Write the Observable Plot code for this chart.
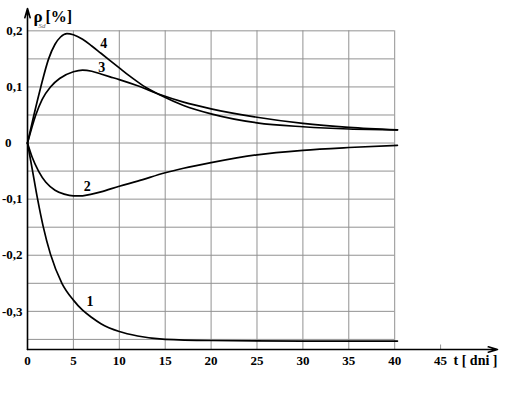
<!DOCTYPE html>
<html>
<head>
<meta charset="utf-8">
<script src="https://cdn.jsdelivr.net/npm/d3@7"></script>
<script src="https://cdn.jsdelivr.net/npm/@observablehq/plot@0.6"></script>
<style>
  html, body { margin: 0; padding: 0; background: #fff; }
  #chart svg, #chart svg text { font-family: "Liberation Serif", "Times New Roman", "DejaVu Serif", serif !important; }
</style>
</head>
<body>
<div id="chart"></div>
<script>
// ---- data ----
const t1 = [0, 0.5, 1.1, 1.7, 2.5, 3.75, 5, 6, 7, 8, 10, 12, 15, 20, 30, 40.3];
const v1 = [0, -0.045, -0.1, -0.148, -0.198, -0.25, -0.28, -0.298, -0.311, -0.322, -0.336, -0.344, -0.35, -0.352, -0.353, -0.353];

const t2 = [0, 0.5, 1.2, 2, 3, 4, 5, 6, 7, 8, 10, 12, 15, 17, 20, 25, 30, 35, 40.3];
const v2 = [0, -0.025, -0.05, -0.07, -0.084, -0.091, -0.094, -0.094, -0.091, -0.087, -0.077, -0.068, -0.053, -0.045, -0.035, -0.021, -0.013, -0.008, -0.004];

const t3 = [0, 0.9, 1.6, 2.5, 3.5, 5, 6, 7, 8, 9, 10, 12, 14.5, 17, 20, 25, 30, 35, 40.3];
const v3 = [0, 0.05, 0.078, 0.1, 0.115, 0.127, 0.13, 0.128, 0.123, 0.118, 0.113, 0.102, 0.086, 0.073, 0.061, 0.046, 0.035, 0.028, 0.0235];

const t4 = [0, 0.7, 1.45, 2.3, 3, 3.6, 4.3, 5, 6, 7, 8, 9, 10, 11, 12, 13, 14.5, 17, 20, 25, 30, 35, 40.3];
const v4 = [0, 0.05, 0.1, 0.15, 0.176, 0.189, 0.195, 0.193, 0.185, 0.173, 0.16, 0.147, 0.134, 0.121, 0.109, 0.098, 0.085, 0.067, 0.052, 0.036, 0.029, 0.025, 0.0235];

const seriesNames = ["1", "2", "3", "4"];
const labelT = [6.8, 6.5, 8.1, 8.3];
const labelV = [-0.282, -0.077, 0.134, 0.178];

const xTicks = [0, 5, 10, 15, 20, 25, 30, 35, 40, 45];
const xGrid = [5, 10, 15, 20, 25, 30, 35, 40];
const yTicks = [-0.3, -0.2, -0.1, 0.1, 0.2];
const yGrid = [-0.35, -0.3, -0.25, -0.2, -0.15, -0.1, -0.05, 0, 0.05, 0.1, 0.15, 0.2];

const xMax = 51.2, yMin = -0.368, yMax = 0.2398, gridXMax = 40, gridYMax = 0.2;

// ---- build tables ----
const rows = [];
[[t1, v1], [t2, v2], [t3, v3], [t4, v4]].forEach(([ts, vs], i) => {
  ts.forEach((t, j) => rows.push({ id: seriesNames[i], t, v: vs[j] }));
});
const labels = seriesNames.map((s, i) => ({ text: s, t: labelT[i], v: labelV[i] }));
const fmt = d => d === 0 ? "0" : (d < 0 ? "-" : "") + Math.abs(d).toFixed(1).replace(".", ",");

const FONT = "Liberation Serif";
const GRID = "#929292";

const chart = Plot.plot({
  width: 521,
  height: 395,
  marginLeft: 27,
  marginRight: 24,
  marginTop: 8,
  marginBottom: 46,
  x: { domain: [0, xMax] },
  y: { domain: [yMin, yMax] },
  style: { fontFamily: FONT, fontWeight: "bold", fontSize: "13px", background: "#fff", color: "#000" },
  marks: [
    Plot.ruleY(yGrid, { x1: 0, x2: gridXMax, stroke: GRID, strokeWidth: 1, strokeOpacity: 1 }),
    Plot.ruleX(xGrid, { y1: yMin, y2: gridYMax, stroke: GRID, strokeWidth: 1, strokeOpacity: 1 }),
    Plot.ruleX([45], { y1: yMin, y2: yMin + 0.008, stroke: GRID }),
    Plot.line(rows, { x: "t", y: "v", z: "id", curve: "monotone-x", stroke: "#000", strokeWidth: 1.7 }),
    Plot.text(labels, { x: "t", y: "v", text: "text", fontFamily: FONT, fontSize: 14, fontWeight: "bold", fill: "#000" }),
    Plot.axisX({ ticks: xTicks, tickSize: 0, tickPadding: 6, tickFormat: d => String(d), fontFamily: FONT, fontSize: 13, fontWeight: "bold", label: null }),
    Plot.axisY({ ticks: yTicks, tickSize: 0, tickPadding: 5, tickFormat: fmt, fontFamily: FONT, fontSize: 13, fontWeight: "bold", label: null }),
    Plot.axisY({ ticks: [0], tickSize: 0, tickPadding: 16, tickFormat: fmt, fontFamily: FONT, fontSize: 13, fontWeight: "bold", label: null }),
    Plot.arrow([{ x1: 0, y1: yMin, x2: 0, y2: yMax }, { x1: 0, y1: yMin, x2: xMax, y2: yMin }],
      { x1: "x1", y1: "y1", x2: "x2", y2: "y2", stroke: "#000", strokeWidth: 1.6, headLength: 9, headAngle: 32 }),
    Plot.text(["t [ dni ]"], { frameAnchor: "bottom-right", textAnchor: "end", lineAnchor: "top", dy: 6, fontFamily: FONT, fontSize: 14, fontWeight: "bold" }),
    Plot.text(["ρ"], { frameAnchor: "top-left", textAnchor: "start", lineAnchor: "middle", dx: 6, dy: 8, fontFamily: FONT, fontSize: 17, fontWeight: "bold" }),
    Plot.text(["Sd"], { frameAnchor: "top-left", textAnchor: "start", lineAnchor: "middle", dx: 11, dy: 17, fontFamily: FONT, fontSize: 7, fontStyle: "italic", fontWeight: "normal", fill: "#666" }),
    Plot.text(["[%]"], { frameAnchor: "top-left", textAnchor: "start", lineAnchor: "middle", dx: 18, dy: 8, fontFamily: FONT, fontSize: 16, fontWeight: "bold" })
  ]
});
document.getElementById("chart").appendChild(chart);
</script>
</body>
</html>
